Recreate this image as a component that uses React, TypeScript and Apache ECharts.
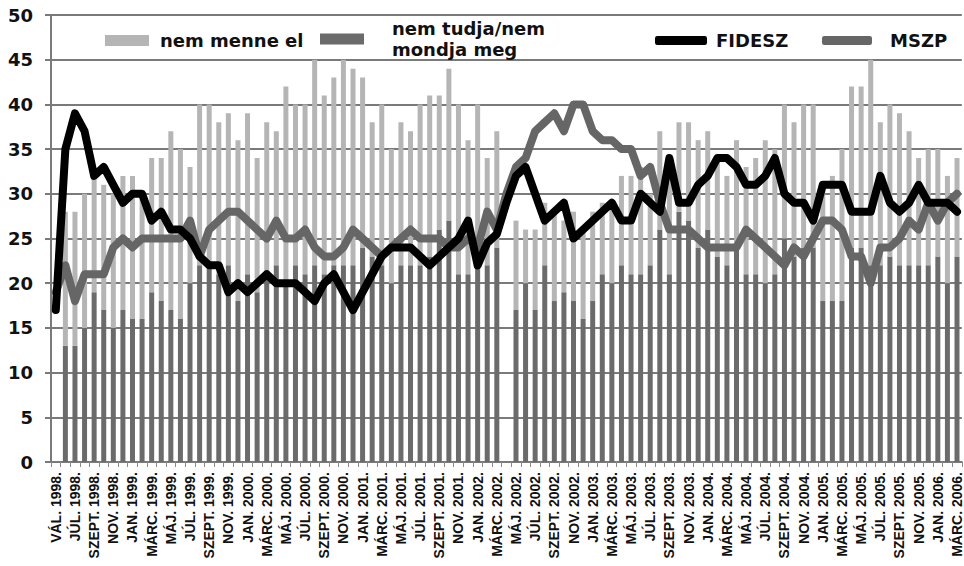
import React, { useEffect, useRef } from "react";
import * as echarts from "echarts";

const categories: string[] = [
  "VÁL. 1998.", "JÚN. 1998.", "JÚL. 1998.", "AUG. 1998.", "SZEPT. 1998.", "OKT. 1998.", "NOV. 1998.", "DEC. 1998.",
  "JAN. 1999.", "FEBR. 1999.", "MÁRC. 1999.", "ÁPR. 1999.", "MÁJ. 1999.", "JÚN. 1999.", "JÚL. 1999.", "AUG. 1999.", "SZEPT. 1999.", "OKT. 1999.", "NOV. 1999.", "DEC. 1999.",
  "JAN. 2000.", "FEBR. 2000.", "MÁRC. 2000.", "ÁPR. 2000.", "MÁJ. 2000.", "JÚN. 2000.", "JÚL. 2000.", "AUG. 2000.", "SZEPT. 2000.", "OKT. 2000.", "NOV. 2000.", "DEC. 2000.",
  "JAN. 2001.", "FEBR. 2001.", "MÁRC. 2001.", "ÁPR. 2001.", "MÁJ. 2001.", "JÚN. 2001.", "JÚL. 2001.", "AUG. 2001.", "SZEPT. 2001.", "OKT. 2001.", "NOV. 2001.", "DEC. 2001.",
  "JAN. 2002.", "FEBR. 2002.", "MÁRC. 2002.", "ÁPR. 2002.", "MÁJ. 2002.", "JÚN. 2002.", "JÚL. 2002.", "AUG. 2002.", "SZEPT. 2002.", "OKT. 2002.", "NOV. 2002.", "DEC. 2002.",
  "JAN. 2003.", "FEBR. 2003.", "MÁRC. 2003.", "ÁPR. 2003.", "MÁJ. 2003.", "JÚN. 2003.", "JÚL. 2003.", "AUG. 2003.", "SZEPT. 2003.", "OKT. 2003.", "NOV. 2003.", "DEC. 2003.",
  "JAN. 2004.", "FEBR. 2004.", "MÁRC. 2004.", "ÁPR. 2004.", "MÁJ. 2004.", "JÚN. 2004.", "JÚL. 2004.", "AUG. 2004.", "SZEPT. 2004.", "OKT. 2004.", "NOV. 2004.", "DEC. 2004.",
  "JAN. 2005.", "FEBR. 2005.", "MÁRC. 2005.", "ÁPR. 2005.", "MÁJ. 2005.", "JÚN. 2005.", "JÚL. 2005.", "AUG. 2005.", "SZEPT. 2005.", "OKT. 2005.", "NOV. 2005.", "DEC. 2005.",
  "JAN. 2006.", "FEBR. 2006.", "MÁRC. 2006.",
];

// "nem tudja/nem mondja meg" (bottom of the stacked bar)
const nemTudja: (number | null)[] = [
  null, 13, 13, 15, 19, 17, 15, 17,
  16, 16, 19, 18, 17, 16, 20, 22, 22, 21, 22, 18,
  21, 19, 21, 22, 20, 22, 21, 22, 21, 22, 22, 22,
  24, 23, 22, 20, 22, 22, 22, 23, 26, 27, 21, 21,
  22, 22, 24, null, 17, 20, 17, 22, 18, 19, 18, 16,
  18, 21, 20, 22, 21, 21, 22, 26, 21, 28, 27, 24,
  26, 23, 22, 24, 21, 21, 20, 21, 25, 23, 24, 24,
  18, 18, 18, 24, 24, 22, 22, 23, 22, 22, 22, 22,
  23, 20, 23,
];

// "nem menne el" (stacked on top)
const nemMenneEl: (number | null)[] = [
  null, 15, 15, 15, 13, 14, 15, 15,
  16, 14, 15, 16, 20, 19, 13, 18, 18, 17, 17, 18,
  18, 15, 17, 15, 22, 18, 19, 23, 20, 21, 23, 22,
  19, 15, 18, 15, 16, 15, 18, 18, 15, 17, 19, 15,
  18, 12, 13, null, 10, 6, 9, 7, 10, 8, 10, 10,
  10, 8, 9, 10, 11, 12, 8, 11, 12, 10, 11, 12,
  11, 11, 10, 12, 12, 13, 16, 14, 15, 15, 16, 16,
  13, 14, 17, 18, 18, 23, 16, 17, 17, 15, 12, 13,
  12, 12, 11,
];

const fidesz: number[] = [
  17, 35, 39, 37, 32, 33, 31, 29,
  30, 30, 27, 28, 26, 26, 25, 23, 22, 22, 19, 20,
  19, 20, 21, 20, 20, 20, 19, 18, 20, 21, 19, 17,
  19, 21, 23, 24, 24, 24, 23, 22, 23, 24, 25, 27,
  22, 24.5, 25.5, 29, 32, 33, 30, 27, 28, 29, 25, 26,
  27, 28, 29, 27, 27, 30, 29, 28, 34, 29, 29, 31,
  32, 34, 34, 33, 31, 31, 32, 34, 30, 29, 29, 27,
  31, 31, 31, 28, 28, 28, 32, 29, 28, 29, 31, 29,
  29, 29, 28,
];

const mszp: number[] = [
  19, 22, 18, 21, 21, 21, 24, 25,
  24, 25, 25, 25, 25, 25, 27, 23, 26, 27, 28, 28,
  27, 26, 25, 27, 25, 25, 26, 24, 23, 23, 24, 26,
  25, 24, 23, 24, 25, 26, 25, 25, 25, 24, 24, 25,
  24, 28, 26, 30, 33, 34, 37, 38, 39, 37, 40, 40,
  37, 36, 36, 35, 35, 32, 33, 29, 26, 26, 26, 25,
  24, 24, 24, 24, 26, 25, 24, 23, 22, 24, 23, 25,
  27, 27, 26, 23, 23, 20, 24, 24, 25, 27, 26, 29,
  27, 29, 30,
];

const yTicks = { min: 0, max: 50, interval: 5 };

const FONT = '"DejaVu Sans", sans-serif';
const XFONT = '"Liberation Sans Narrow", "Liberation Sans", sans-serif';

export default function App() {
  const ref = useRef<HTMLDivElement>(null);
  useEffect(() => {
    if (!ref.current) return;
    const chart = echarts.init(ref.current, undefined, { renderer: "svg" });
    const legendText = (pad: number) => ({
      fontFamily: FONT,
      fontWeight: "bold",
      fontSize: 18,
      color: "#111",
      lineHeight: 21,
      padding: [0, 0, 0, pad],
    });
    chart.setOption({
      animation: false,
      backgroundColor: "#fff",
      grid: { left: 51, right: 1, top: 15, bottom: 104 },
      legend: [
        {
          data: ["nem menne el"], left: 100, top: 25, icon: "rect",
          itemWidth: 44, itemHeight: 11, selectedMode: false, textStyle: legendText(6),
        },
        {
          data: ["nem tudja/nem mondja meg"], left: 315, top: 13, icon: "rect",
          itemWidth: 44, itemHeight: 11, selectedMode: false, textStyle: legendText(23),
          formatter: () => "nem tudja/nem\nmondja meg",
        },
        {
          data: ["FIDESZ"], left: 650, top: 25, icon: "roundRect",
          itemWidth: 52, itemHeight: 9, selectedMode: false, textStyle: legendText(4),
        },
        {
          data: ["MSZP"], left: 817, top: 25, icon: "roundRect",
          itemWidth: 50, itemHeight: 9, selectedMode: false, textStyle: legendText(13),
        },
      ],
      xAxis: {
        type: "category",
        data: categories,
        boundaryGap: true,
        axisLine: { show: true, lineStyle: { color: "#7a7a7a", width: 2 } },
        axisTick: { show: true, interval: 0, length: 5, lineStyle: { color: "#8a8a8a", width: 1 } },
        axisLabel: {
          interval: 1,
          rotate: 90,
          margin: 10,
          fontFamily: XFONT,
          fontWeight: "bold",
          fontSize: 14,
          color: "#111",
        },
      },
      yAxis: {
        type: "value",
        min: yTicks.min,
        max: yTicks.max,
        interval: yTicks.interval,
        axisLine: { show: true, lineStyle: { color: "#7a7a7a", width: 2 } },
        axisTick: { show: true, length: 6, lineStyle: { color: "#7a7a7a", width: 2 } },
        splitLine: { show: true, lineStyle: { color: "#7a7a7a", width: 2 } },
        axisLabel: {
          margin: 18,
          fontFamily: FONT,
          fontWeight: "bold",
          fontSize: 18,
          color: "#111",
        },
      },
      series: [
        {
          name: "nem tudja/nem mondja meg",
          type: "bar",
          stack: "b",
          barWidth: 5,
          data: nemTudja,
          itemStyle: { color: "#6b6b6b" },
          z: 2,
        },
        {
          name: "nem menne el",
          type: "bar",
          stack: "b",
          barWidth: 5,
          data: nemMenneEl,
          itemStyle: { color: "#b5b5b5" },
          z: 2,
        },
        {
          name: "MSZP",
          type: "line",
          data: mszp,
          symbol: "none",
          lineStyle: { color: "#666666", width: 8, cap: "round", join: "round" },
          itemStyle: { color: "#666666" },
          z: 3,
        },
        {
          name: "FIDESZ",
          type: "line",
          data: fidesz,
          symbol: "none",
          lineStyle: { color: "#000000", width: 8, cap: "round", join: "round" },
          itemStyle: { color: "#000000" },
          z: 4,
        },
      ],
    });
    return () => chart.dispose();
  }, []);
  return (
    <div
      ref={ref}
      style={{ position: "fixed", left: 0, top: 0, width: 964, height: 566 }}
    />
  );
}
